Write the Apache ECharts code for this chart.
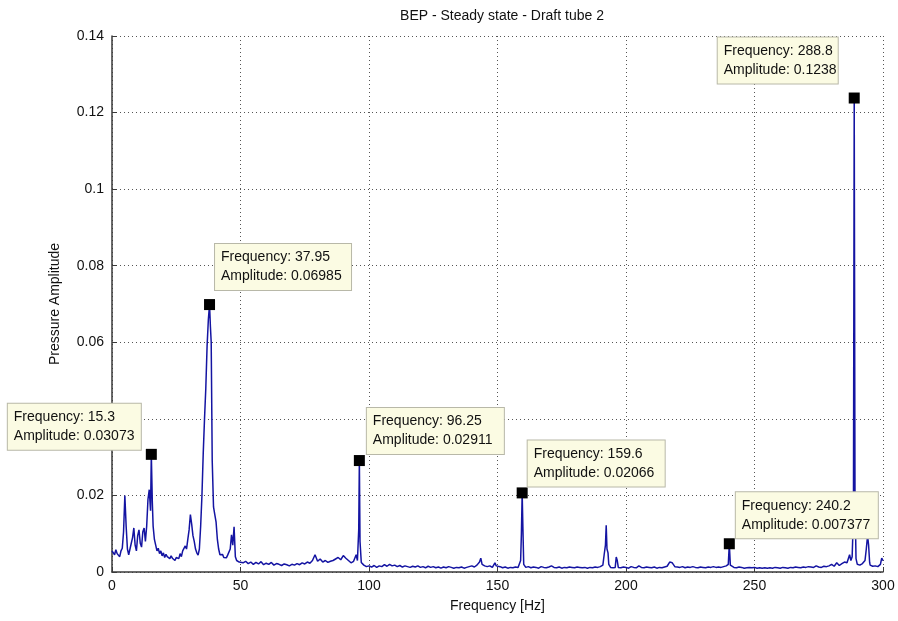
<!DOCTYPE html>
<html>
<head>
<meta charset="utf-8">
<script src="https://cdn.jsdelivr.net/npm/echarts@6/dist/echarts.min.js"></script>
<style>html,body{margin:0;padding:0;background:#fff;}#c{width:898px;height:621px;}</style>
</head>
<body>
<div id="c"></div>
<script>
// Frequency [Hz] samples
var freqs = [
0,0.5,1,1.5,2,2.5,3,3.5,4,4.5,5,5.5,6,6.5,7,7.5,8,8.5,9,9.5,10,10.5,11,11.5,12,12.5,13,13.5,14,14.5,15,15.3,15.7,16,16.5,17,17.5,18,18.5,19,19.5,
20,20.5,21,21.5,22,22.5,23,23.5,24,24.5,25,25.5,26,26.5,27,27.5,28,28.5,29,29.5,30,30.5,31,31.5,32,32.5,33,33.5,34,34.5,35,35.5,36,36.5,37,37.5,37.95,38.3,38.6,39,39.5,
40,40.5,41,41.5,42,42.5,43,43.5,44,44.5,45,45.5,46,46.5,47,47.5,48,48.5,49,49.5,50,
51,52,53,54,55,56,57,58,59,60,61,62,63,64,65,66,67,68,69,70,71,72,73,74,75,76,77,78,79,79.5,80,
81,82,83,84,85,86,87,88,89,90,91,92,93,94,95,95.5,96,96.25,96.5,97,98,99,100,
101,102,103,104,105,106,107,108,109,110,111,112,113,114,115,116,117,118,119,120,
121,122,123,124,125,126,127,128,129,130,131,132,133,134,135,136,137,138,139,140,
141,142,143,143.5,144,145,146,147,148,149,149.5,150,151,152,153,154,155,156,157,158,159,159.3,159.6,159.9,160.2,
161,162,163,164,165,166,167,168,169,170,171,172,173,174,175,176,177,178,179,180,
181,182,183,184,185,186,187,188,189,190,191,191.5,192,192.3,192.6,193,193.3,194,195,195.8,196.2,196.6,197,198,199,200,
201,202,203,204,205,206,207,208,209,210,211,212,213,214,215,216,217,218,219,220,
221,222,223,224,225,226,227,228,229,230,231,232,233,234,235,236,237,238,239,239.8,240.2,240.6,
241,242,243,244,245,246,247,248,249,250,251,252,253,254,255,256,257,258,259,260,
261,262,263,264,265,266,267,268,269,270,271,272,273,274,275,276,277,278,279,280,
281,282,283,284,285,286,287,287.5,288,288.5,288.8,289.1,289.5,290,291,292,293,293.5,294,294.4,294.8,295,296,297,298,299,299.5,300
];
// Pressure amplitude at each sample
var amps = [
0.0055,0.0060,0.0045,0.0058,0.0048,0.0052,0.0040,0.0055,0.0062,0.0105,0.0200,0.0120,0.0060,0.0045,0.0048,0.0075,0.0090,0.0115,0.0070,0.0055,0.0095,0.0110,0.0075,0.0065,0.0105,0.0115,0.0080,0.0120,0.0190,0.0215,0.0160,0.03073,0.0180,0.0120,0.0085,0.0070,0.0055,0.0062,0.0048,0.0055,0.0042,
0.0050,0.0038,0.0046,0.0040,0.0044,0.0035,0.0042,0.0036,0.0040,0.0030,0.0038,0.0042,0.0035,0.0048,0.0040,0.0055,0.0050,0.0068,0.0060,0.0085,0.0110,0.0150,0.0125,0.0095,0.0080,0.0060,0.0050,0.0044,0.0060,0.0120,0.0200,0.0310,0.0400,0.0480,0.0590,0.0660,0.06985,0.0640,0.0600,0.0290,0.0170,
0.0150,0.0130,0.0085,0.0060,0.0045,0.0040,0.0046,0.0038,0.0042,0.0037,0.0044,0.0040,0.0060,0.0097,0.0070,0.0118,0.0040,0.0030,0.0034,0.0026,0.0030,
0.0024,0.0028,0.0022,0.0026,0.0020,0.0025,0.0021,0.0027,0.0019,0.0023,0.0020,0.0025,0.0018,0.0022,0.0020,0.0017,0.0021,0.0019,0.0016,0.0020,0.0018,0.0022,0.0019,0.0024,0.0021,0.0026,0.0023,0.0030,0.0045,0.0050,0.0028,
0.0034,0.0026,0.0030,0.0025,0.0028,0.0030,0.0034,0.0038,0.0032,0.0043,0.0036,0.0030,0.0024,0.0028,0.0045,0.0030,0.0110,0.02911,0.0080,0.0025,0.0018,0.0014,0.0016,
0.0013,0.0017,0.0012,0.0016,0.0014,0.0019,0.0015,0.0020,0.0016,0.0018,0.0014,0.0017,0.0013,0.0016,0.0014,0.0012,0.0015,0.0013,0.0016,0.0012,
0.0014,0.0011,0.0015,0.0012,0.0014,0.0011,0.0013,0.0010,0.0013,0.0011,0.0014,0.0012,0.0010,0.0012,0.0011,0.0013,0.0010,0.0012,0.0014,0.0016,
0.0013,0.0018,0.0026,0.0036,0.0020,0.0016,0.0014,0.0016,0.0012,0.0024,0.0016,0.0012,0.0014,0.0011,0.0013,0.0010,0.0012,0.0011,0.0013,0.0012,0.0030,0.0100,0.02066,0.0110,0.0020,
0.0012,0.0014,0.0011,0.0013,0.0012,0.0010,0.0014,0.0012,0.0011,0.0013,0.0016,0.0012,0.0011,0.0013,0.0010,0.0012,0.0011,0.0013,0.0012,0.0011,
0.0013,0.0012,0.0011,0.0012,0.0010,0.0012,0.0011,0.0013,0.0012,0.0014,0.0018,0.0045,0.0070,0.0122,0.0060,0.0050,0.0020,0.0012,0.0011,0.0012,0.0039,0.0030,0.0012,0.0011,0.0013,0.0012,
0.0010,0.0014,0.0012,0.0011,0.0016,0.0012,0.0011,0.0013,0.0012,0.0011,0.0013,0.0010,0.0012,0.0011,0.0013,0.0015,0.0026,0.0024,0.0014,0.0013,
0.0012,0.0014,0.0011,0.0013,0.0012,0.0014,0.0012,0.0011,0.0013,0.0012,0.0011,0.0013,0.0012,0.0014,0.0012,0.0013,0.0012,0.0014,0.0016,0.0020,0.007377,0.0018,
0.0014,0.0012,0.0011,0.0013,0.0012,0.0010,0.0011,0.0012,0.0011,0.0012,0.0010,0.0011,0.0010,0.0011,0.0010,0.0011,0.0010,0.0012,0.0011,0.0010,
0.0012,0.0011,0.0010,0.0012,0.0011,0.0013,0.0012,0.0011,0.0013,0.0012,0.0014,0.0013,0.0012,0.0016,0.0013,0.0012,0.0015,0.0014,0.0016,0.0020,
0.0015,0.0024,0.0017,0.0022,0.0026,0.0024,0.0045,0.0030,0.0040,0.0150,0.1238,0.0200,0.0035,0.0020,0.0018,0.0022,0.0030,0.0060,0.0095,0.0070,0.0025,0.0018,0.0015,0.0016,0.0014,0.0020,0.0036,0.0030
];
// Data tips (peak markers)
var tipFreqs = [15.3, 37.95, 96.25, 159.6, 240.2, 288.8];
var tipAmps = [0.03073, 0.06985, 0.02911, 0.02066, 0.007377, 0.1238];
var tipFreqText = ['15.3', '37.95', '96.25', '159.6', '240.2', '288.8'];
var tipAmpText = ['0.03073', '0.06985', '0.02911', '0.02066', '0.007377', '0.1238'];

// label placement for each tip (relative to marker top-left), box width
var tipPlace = [
  {pos: [-138, 1], w: 135},
  {pos: [11, -9], w: 138},
  {pos: [13, -1], w: 139},
  {pos: [11, -1], w: 139},
  {pos: [12, 0], w: 144},
  {pos: [-131, -9], w: 122}
];

var FONT = 'Liberation Sans, Arial, sans-serif';
var PADX = 6;
var lineData = freqs.map(function (f, i) { return [f, amps[i]]; });
var tipData = tipFreqs.map(function (f, i) {
  return {
    value: [f, tipAmps[i]],
    label: {
      show: true,
      position: tipPlace[i].pos,
      align: 'left',
      verticalAlign: 'bottom',
      width: tipPlace[i].w - 2 * PADX - 2,
      formatter: 'Frequency: ' + tipFreqText[i] + '\nAmplitude: ' + tipAmpText[i]
    }
  };
});

var chart = echarts.init(document.getElementById('c'), null, {renderer: 'canvas'});
chart.setOption({
  animation: false,
  backgroundColor: '#ffffff',
  title: {
    text: 'BEP - Steady state - Draft tube 2',
    left: 497, top: 4, textAlign: 'center',
    textStyle: {fontFamily: FONT, fontSize: 14, fontWeight: 'normal', color: '#111'}
  },
  grid: {left: 112, right: 15, top: 36, bottom: 49},
  xAxis: {
    type: 'value', min: 0, max: 300, interval: 50,
    name: 'Frequency [Hz]', nameLocation: 'middle', nameGap: 27,
    nameTextStyle: {fontFamily: FONT, fontSize: 14, color: '#111'},
    axisLine: {show: true, onZero: false, lineStyle: {color: '#3a3a3a', width: 1.5}},
    axisTick: {show: true, inside: true, length: 5, lineStyle: {color: '#3a3a3a'}},
    axisLabel: {fontFamily: FONT, fontSize: 14, color: '#111', margin: 7},
    splitLine: {show: true, lineStyle: {color: '#555', type: [1, 3], width: 1}}
  },
  yAxis: {
    type: 'value', min: 0, max: 0.14, interval: 0.02,
    name: 'Pressure Amplitude', nameLocation: 'middle', nameGap: 50,
    nameTextStyle: {fontFamily: FONT, fontSize: 14, color: '#111'},
    axisLine: {show: true, lineStyle: {color: '#3a3a3a', width: 1.5}},
    axisTick: {show: true, inside: true, length: 5, lineStyle: {color: '#3a3a3a'}},
    axisLabel: {fontFamily: FONT, fontSize: 14, color: '#111', margin: 8,
      formatter: function (v) { return String(+v.toFixed(4)); }},
    splitLine: {show: true, lineStyle: {color: '#555', type: [1, 3], width: 1}}
  },
  series: [
    {
      type: 'line', data: lineData, showSymbol: false, symbol: 'none',
      lineStyle: {color: '#1414a2', width: 1.5}, z: 2
    },
    {
      type: 'scatter', data: tipData, symbol: 'rect', symbolSize: 11,
      itemStyle: {color: '#000', opacity: 1}, z: 5,
      label: {
        fontFamily: FONT, fontSize: 14, lineHeight: 19, color: '#111',
        backgroundColor: '#fbfbe3', borderColor: '#b8b8a8', borderWidth: 1,
        padding: [4, PADX, 4, PADX]
      }
    }
  ]
});
</script>
</body>
</html>
